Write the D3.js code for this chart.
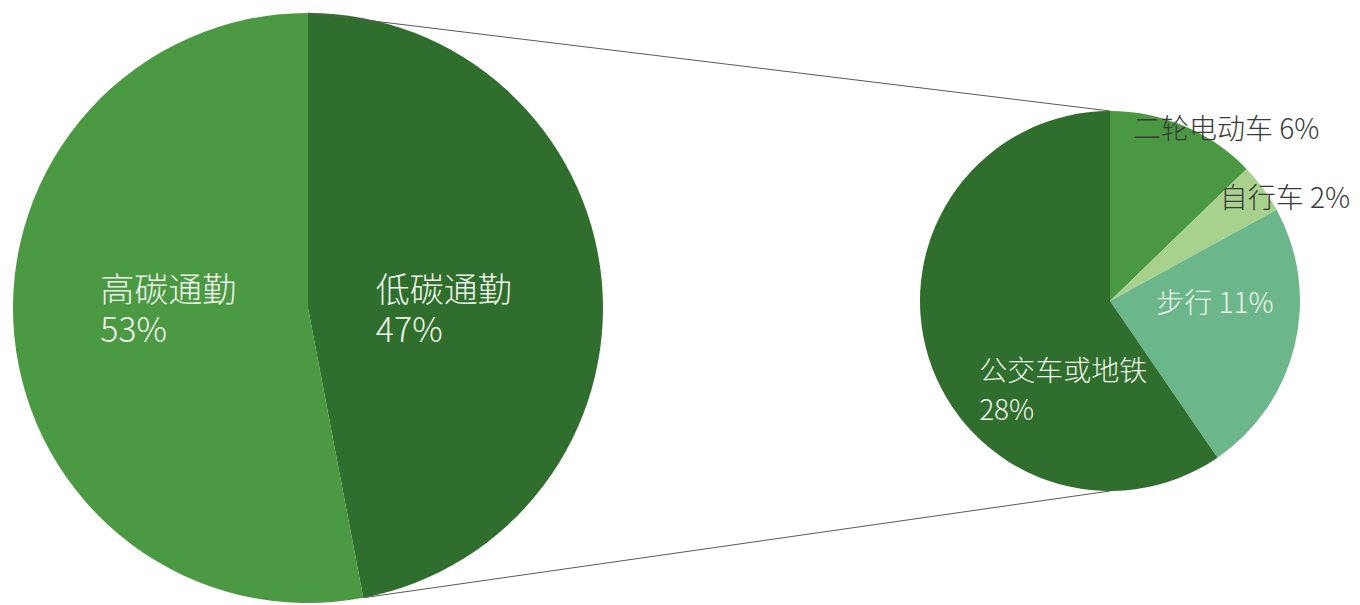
<!DOCTYPE html>
<html>
<head>
<meta charset="utf-8">
<script src="https://cdn.jsdelivr.net/npm/d3@7/dist/d3.min.js"></script>
<style>
  html, body { margin: 0; padding: 0; background: #ffffff; }
  svg { display: block; }
  text { font-family: "Noto Sans CJK SC", "Noto Sans", sans-serif; font-weight: 300; }
</style>
</head>
<body>
<svg id="chart" width="1360" height="605"></svg>
<script>
// Commute split: low-carbon vs high-carbon
const bigCategories = ["低碳通勤", "高碳通勤"];
const bigValues = [47, 53];

// Breakdown of low-carbon commuting
const smallCategories = ["二轮电动车", "自行车", "步行", "公交车或地铁"];
const smallValues = [6, 2, 11, 28];

// Styling / layout
const bigColors = ["#2f6e2c", "#4b9943"];
const smallColors = ["#4a9842", "#a9d18e", "#6bb68b", "#2f6e2c"];

const bigPie = { cx: 308, cy: 308, r: 295 };
const smallPie = { cx: 1110, cy: 301, r: 190 };

// label placement: radius fraction for the anchor, then nudge, whether two lines, text colour
const bigLabelLayout = [
  { k: 0.5, dx: -11, dy: 15, twoLines: true, color: "#eef5ea" },
  { k: 0.5, dx: 7, dy: -13, twoLines: true, color: "#eef5ea" }
];
const smallLabelLayout = [
  { k: 1.0, dx: 42, dy: 2, twoLines: false, color: "#3a3a3a" },
  { k: 1.0, dx: 22, dy: 9, twoLines: false, color: "#3a3a3a" },
  { k: 0.6, dx: -6, dy: -25, twoLines: false, color: "#eef5ea" },
  { k: 0.6, dx: 62, dy: 55, twoLines: true, color: "#eef5ea" }
];

const svg = d3.select("#chart");
const pie = d3.pie().sort(null).value(d => d);

function drawPie(cfg, values, categories, colors, layout, fontSize, lineH) {
  const arcs = pie(values);
  const arc = d3.arc().innerRadius(0).outerRadius(cfg.r);
  const g = svg.append("g").attr("transform", `translate(${cfg.cx},${cfg.cy})`);
  g.selectAll("path.slice")
    .data(arcs)
    .join("path")
    .attr("class", "slice")
    .attr("d", arc)
    .attr("fill", (d, i) => colors[i]);

  arcs.forEach((d, i) => {
    const L = layout[i];
    const la = d3.arc().innerRadius(cfg.r * L.k).outerRadius(cfg.r * L.k);
    const [x, y] = la.centroid(d);
    const cx = x + L.dx, cy = y + L.dy;
    const t = g.append("text")
      .attr("fill", L.color)
      .attr("font-size", fontSize)
      .attr("text-anchor", "start");
    if (L.twoLines) {
      const b1 = cy - lineH / 2 + 0.38 * fontSize;
      t.append("tspan").attr("x", 0).attr("y", b1).text(categories[i]);
      t.append("tspan").attr("x", 0).attr("y", b1 + lineH).text(values[i] + "%");
    } else {
      t.append("tspan").attr("x", 0).attr("y", cy + 0.38 * fontSize).text(categories[i] + " " + values[i] + "%");
    }
    // left-aligned block centred on the anchor
    const w = t.node().getBBox().width;
    t.selectAll("tspan").attr("x", cx - w / 2);
  });
  return arcs;
}

const bigArcs = drawPie(bigPie, bigValues, bigCategories, bigColors, bigLabelLayout, 34, 40);
const smallArcs = drawPie(smallPie, smallValues, smallCategories, smallColors, smallLabelLayout, 28, 39);

// connector lines from the low-carbon slice edges to the top and bottom of the breakdown pie
function pointOn(cfg, angle) {
  return [cfg.cx + cfg.r * Math.sin(angle), cfg.cy - cfg.r * Math.cos(angle)];
}
const lowSlice = bigArcs[0];
const connectors = [
  [pointOn(bigPie, lowSlice.startAngle), pointOn(smallPie, 0)],
  [pointOn(bigPie, lowSlice.endAngle), pointOn(smallPie, Math.PI)]
];
svg.selectAll("line.connector")
  .data(connectors)
  .join("line")
  .attr("class", "connector")
  .attr("x1", d => d[0][0]).attr("y1", d => d[0][1])
  .attr("x2", d => d[1][0]).attr("y2", d => d[1][1])
  .attr("stroke", "#5a5a5a")
  .attr("stroke-width", 1);
</script>
</body>
</html>
